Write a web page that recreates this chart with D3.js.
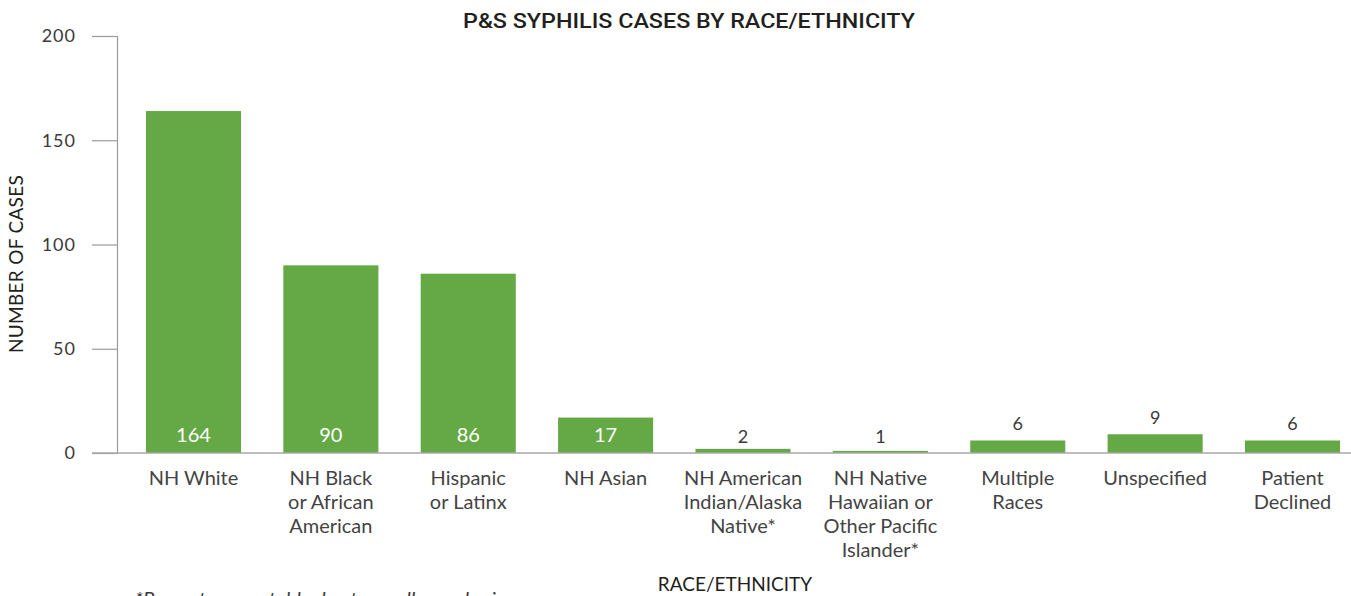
<!DOCTYPE html>
<html>
<head>
<meta charset="utf-8">
<script src="https://cdn.jsdelivr.net/npm/d3@7"></script>
<style>
  html, body { margin: 0; padding: 0; background: #fff; }
  svg { display: block; }
</style>
</head>
<body>
<svg id="chart" width="1351" height="596"></svg>
<script>
// Primary & secondary syphilis cases by race/ethnicity
const categories = [
  "NH White",
  "NH Black or African American",
  "Hispanic or Latinx",
  "NH Asian",
  "NH American Indian/Alaska Native*",
  "NH Native Hawaiian or Other Pacific Islander*",
  "Multiple Races",
  "Unspecified",
  "Patient Declined"
];
// Line breaks used for the category labels under each bar
const categoryLines = [
  ["NH White"],
  ["NH Black", "or African", "American"],
  ["Hispanic", "or Latinx"],
  ["NH Asian"],
  ["NH American", "Indian/Alaska", "Native*"],
  ["NH Native", "Hawaiian or", "Other Pacific", "Islander*"],
  ["Multiple", "Races"],
  ["Unspecified"],
  ["Patient", "Declined"]
];
const cases = [164, 90, 86, 17, 2, 1, 6, 9, 6];
const yTicks = [0, 50, 100, 150, 200];

const svg = d3.select("#chart");
const font = "Lato, 'Open Sans', sans-serif";
const green = "#64a945";

const y = d3.scaleLinear().domain([0, 200]).range([453, 36]);
const x = d3.scaleBand()
  .domain(categories)
  .range([124.8, 1361.2])
  .paddingInner(0.308)
  .paddingOuter(0.154);

// Title
svg.append("text")
  .attr("x", 689).attr("y", 28)
  .attr("text-anchor", "middle")
  .attr("font-family", "Roboto, sans-serif")
  .attr("font-weight", 500)
  .attr("font-size", 21)
  .attr("textLength", 452)
  .attr("lengthAdjust", "spacingAndGlyphs")
  .attr("fill", "#231f20")
  .text("P&S SYPHILIS CASES BY RACE/ETHNICITY");

// Y axis
const yAxis = svg.append("g")
  .attr("transform", "translate(117,0)")
  .call(d3.axisLeft(y).tickValues(yTicks).tickSize(25).tickPadding(16));
yAxis.select(".domain").attr("stroke", "#9a9a9a").attr("stroke-width", 1.2);
yAxis.selectAll(".tick line").attr("stroke", "#9a9a9a").attr("stroke-width", 1.2);
yAxis.selectAll(".tick text")
  .attr("font-family", font)
  .attr("font-size", 18)
  .attr("letter-spacing", 1)
  .attr("fill", "#3a3a3a");

// Bars
svg.append("g").selectAll("rect")
  .data(categories)
  .join("rect")
  .attr("x", d => x(d))
  .attr("width", x.bandwidth())
  .attr("y", (d, i) => y(cases[i]))
  .attr("height", (d, i) => y(0) - y(cases[i]))
  .attr("fill", green);

// Baseline across the full width
svg.append("line")
  .attr("x1", 92).attr("x2", 1351)
  .attr("y1", y(0)).attr("y2", y(0))
  .attr("stroke", "#a8a8a8").attr("stroke-width", 1.5);

// Value labels: inside the bar for tall bars, above it for short ones
svg.append("g").selectAll("text")
  .data(categories)
  .join("text")
  .attr("x", d => x(d) + x.bandwidth() / 2)
  .attr("y", (d, i) => {
    const v = cases[i];
    if (v >= 15) return y(0) - 11;
    if (v >= 5) return y(v) - 10;
    return y(0) - 10;
  })
  .attr("text-anchor", "middle")
  .attr("font-family", font)
  .attr("font-size", (d, i) => cases[i] >= 15 ? 20 : 18)
  .attr("fill", (d, i) => cases[i] >= 15 ? "#ffffff" : "#3a3a3a")
  .text((d, i) => cases[i]);

// Category labels
const catG = svg.append("g").selectAll("text")
  .data(categories)
  .join("text")
  .attr("text-anchor", "middle")
  .attr("font-family", font)
  .attr("font-size", 20)
  .attr("fill", "#444444");
catG.each(function (d, i) {
  const t = d3.select(this);
  categoryLines[i].forEach((line, k) => {
    t.append("tspan")
      .attr("x", x(d) + x.bandwidth() / 2)
      .attr("y", 485 + k * 24)
      .text(line);
  });
});

// Axis titles
svg.append("text")
  .attr("transform", "translate(23,264) rotate(-90)")
  .attr("text-anchor", "middle")
  .attr("font-family", font)
  .attr("font-size", 19)
  .attr("letter-spacing", 0.3)
  .attr("fill", "#231f20")
  .text("NUMBER OF CASES");

svg.append("text")
  .attr("x", 735).attr("y", 591)
  .attr("text-anchor", "middle")
  .attr("font-family", font)
  .attr("font-size", 19)
  .attr("fill", "#231f20")
  .text("RACE/ETHNICITY");

// Footnote
svg.append("text")
  .attr("x", 135).attr("y", 606)
  .attr("font-family", font)
  .attr("font-style", "italic")
  .attr("font-size", 20)
  .attr("fill", "#3a3a3a")
  .text("*Percentage unstable due to small sample size.");
</script>
</body>
</html>
